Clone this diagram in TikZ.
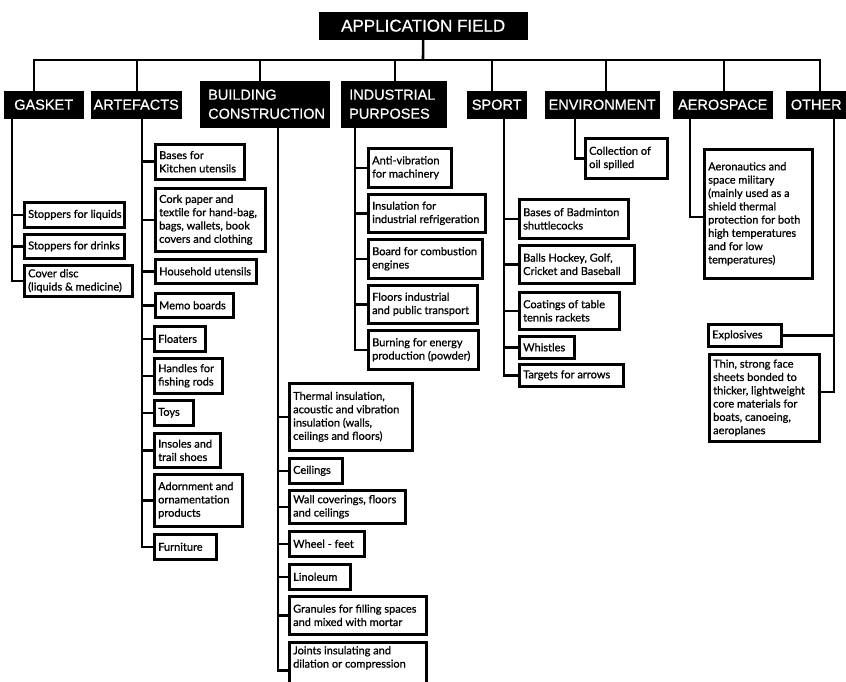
\documentclass[tikz,border=0pt]{standalone}
\usepackage{fontspec}
\setmainfont[FakeBold=0.9]{Lato}
\newfontfamily\headfont[FakeBold=0.6]{Liberation Sans}
\tikzset{
  lw/.style={line width=2.6pt},
  conn/.style={lw},
  leafbox/.style={draw, lw, anchor=north west, inner sep=0pt},
  leaftext/.style={anchor=west, align=left, inner sep=0pt, font=\fontsize{11}{13.3}\selectfont},
  headbox/.style={fill=black, draw=black, anchor=north west, inner sep=0pt},
  headtext/.style={text=white, align=left, inner sep=0pt, font=\headfont\fontsize{14.5}{19}\selectfont},
}
% leaf box: name, x1, y1, x2, y2, text
\newcommand\leafnode[6]{%
  \pgfmathsetmacro\bw{#4-#2}\pgfmathsetmacro\bh{#5-#3}%
  \node[leafbox, minimum width=\bw pt, minimum height=\bh pt] (#1) at (#2,#3) {};
  \node[leaftext] (#1t) at ([xshift=5pt]#1.west) {#6};}
% head box, centred text
\newcommand\headc[6]{%
  \pgfmathsetmacro\bw{#4-#2}\pgfmathsetmacro\bh{#5-#3}%
  \node[headbox, minimum width=\bw pt, minimum height=\bh pt] (#1) at (#2,#3) {};
  \node[headtext] (#1t) at (#1.center) {#6};}
% head box, left text
\newcommand\headl[6]{%
  \pgfmathsetmacro\bw{#4-#2}\pgfmathsetmacro\bh{#5-#3}%
  \node[headbox, minimum width=\bw pt, minimum height=\bh pt] (#1) at (#2,#3) {};
  \node[headtext, anchor=west] (#1t) at ([xshift=8pt]#1.west) {#6};}
\begin{document}
\begin{tikzpicture}[x=1pt,y=-1pt]
\fill[white] (0,0) rectangle (846,682);
\useasboundingbox (0,0) rectangle (846,682);

% title
\node[headbox, minimum width=208pt, minimum height=27pt] (title) at (319,12) {};
\node[headtext, font=\headfont\fontsize{17}{20}\selectfont] (titlet) at (title.center) {APPLICATION FIELD};
\coordinate (bus) at (423,60);

% categories
\headc{gasket}{4}{91}{83}{118}{GASKET}
\headc{artefacts}{91}{91}{181}{118}{ARTEFACTS}
\headl{building}{200}{81}{329}{127}{BUILDING\\CONSTRUCTION}
\headl{industrial}{341}{81}{446}{127}{INDUSTRIAL\\PURPOSES}
\headc{sport}{467}{91}{526}{118}{SPORT}
\headc{environment}{545}{91}{659}{118}{ENVIRONMENT}
\headc{aerospace}{673}{91}{772}{118}{AEROSPACE}
\headc{other}{786}{91}{850}{118}{\hspace*{-4pt}OTHER}

% bus connectors
\draw[conn] (title.south) -- (bus);
\draw[conn] ([xshift=30pt]gasket.north west) |- (bus);
\draw[conn] ([xshift=46pt]artefacts.north west) |- (bus);
\draw[conn] ([xshift=60pt]building.north west) |- (bus);
\draw[conn] ([xshift=54pt]industrial.north west) |- (bus);
\draw[conn] ([xshift=25pt]sport.north west) |- (bus);
\draw[conn] ([xshift=61pt]environment.north west) |- (bus);
\draw[conn] ([xshift=51pt]aerospace.north west) |- (bus);
\draw[conn] ([xshift=34pt]other.north west) |- (bus);

% GASKET
\leafnode{g1}{23}{201}{123}{226}{Stoppers for liquids}
\leafnode{g2}{23}{233}{123}{257}{Stoppers for drinks}
\leafnode{g3}{23}{264}{131}{295}{Cover disc\\(liquids \& medicine)}
\coordinate (gt) at ([xshift=8pt]gasket.south west);
\draw[conn] (gt) |- (g3.west);
\foreach \n in {g1,g2} \draw[conn] (\n.west) -- (\n.west -| gt);

% ARTEFACTS
\leafnode{a1}{154}{143}{243}{178}{Bases for\\Kitchen utensils}
\leafnode{a2}{154}{187}{264}{250}{Cork paper and\\textile for hand-bag,\\bags, wallets, book\\covers and clothing}
\leafnode{a3}{154}{258}{255}{282}{Household utensils}
\leafnode{a4}{154}{292}{232}{316}{Memo boards}
\leafnode{a5}{153}{325}{204}{350}{Floaters}
\leafnode{a6}{153}{357}{221}{392}{Handles for\\fishing rods}
\leafnode{a7}{153}{399}{192}{424}{Toys}
\leafnode{a8}{153}{432}{219}{466}{Insoles and\\trail shoes}
\leafnode{a9}{153}{473}{241}{525}{Adornment and\\ornamentation\\products}
\leafnode{a10}{153}{533}{215}{558}{Furniture}
\coordinate (at) at ([xshift=51pt]artefacts.south west);
\draw[conn] (at) |- (a10.west);
\foreach \n in {a1,a2,a3,a4,a5,a6,a7,a8,a9} \draw[conn] (\n.west) -- (\n.west -| at);

% BUILDING CONSTRUCTION
\leafnode{b1}{288}{382}{411}{449}{Thermal insulation,\\acoustic and vibration\\insulation (walls,\\ceilings and floors)}
\leafnode{b2}{288}{457}{341}{482}{Ceilings}
\leafnode{b3}{288}{489}{404}{522}{Wall coverings, floors\\and ceilings}
\leafnode{b4}{288}{530}{363}{555}{Wheel - feet}
\leafnode{b5}{288}{563}{349}{588}{Linoleum}
\leafnode{b6}{288}{595}{425}{633}{Granules for filling spaces\\and mixed with mortar}
\node[leafbox, minimum width=137pt, minimum height=50pt] (b7) at (288,641) {};
\node[leaftext, anchor=north west] (b7t) at ([xshift=5pt,yshift=-5pt]b7.north west) {Joints insulating and\\dilation or compression};
\coordinate (bt) at ([xshift=78pt]building.south west);
\draw[conn] (bt) |- ([yshift=-3pt]b7.west);
\foreach \n in {b1,b2,b3,b4,b5,b6} \draw[conn] (\n.west) -- (\n.west -| bt);

% INDUSTRIAL PURPOSES
\leafnode{i1}{367}{147}{450}{186}{Anti-vibration\\for machinery}
\leafnode{i2}{367}{193}{484}{231}{Insulation for\\industrial refrigeration}
\leafnode{i3}{367}{238}{481}{277}{Board for combustion\\engines}
\leafnode{i4}{367}{284}{476}{322}{Floors industrial\\and public transport}
\leafnode{i5}{367}{329}{477}{368}{Burning for energy\\production (powder)}
\coordinate (it) at ([xshift=14pt]industrial.south west);
\draw[conn] (it) |- (i5.west);
\foreach \n in {i1,i2,i3,i4} \draw[conn] (\n.west) -- (\n.west -| it);

% SPORT
\leafnode{s1}{518}{198}{627}{237}{Bases of Badminton\\shuttlecocks}
\leafnode{s2}{518}{244}{633}{282}{Balls Hockey, Golf,\\Cricket and Baseball}
\leafnode{s3}{518}{291}{618}{328}{Coatings of table\\tennis rackets}
\leafnode{s4}{518}{335}{573}{357}{Whistles}
\leafnode{s5}{518}{363}{622}{385}{Targets for arrows}
\coordinate (st) at ([xshift=37pt]sport.south west);
\draw[conn] (st) |- (s5.west);
\foreach \n in {s1,s2,s3,s4} \draw[conn] (\n.west) -- (\n.west -| st);

% ENVIRONMENT
\leafnode{e1}{584}{137}{666}{177}{Collection of\\oil spilled}
\coordinate (et) at ([xshift=30pt]environment.south west);
\draw[conn] (et) |- (e1.west);

% AEROSPACE
\leafnode{ae1}{703}{148}{811}{277}{Aeronautics and\\space military\\(mainly used as a\\shield thermal\\protection for both\\high temperatures\\and for low\\temperatures)}
\coordinate (aet) at ([xshift=17pt]aerospace.south west);
\draw[conn] (aet) |- ([yshift=-3pt]ae1.west);

% OTHER
\leafnode{o1}{707}{323}{780}{345}{Explosives}
\leafnode{o2}{708}{353}{818}{440}{Thin, strong face\\sheets bonded to\\thicker, lightweight\\core materials for\\boats, canoeing,\\aeroplanes}
\coordinate (ot) at ([xshift=48pt]other.south west);
\draw[conn] (ot) |- ([yshift=6pt]o2.east);
\draw[conn] (o1.east) -- (o1.east -| ot);
\end{tikzpicture}
\end{document}
